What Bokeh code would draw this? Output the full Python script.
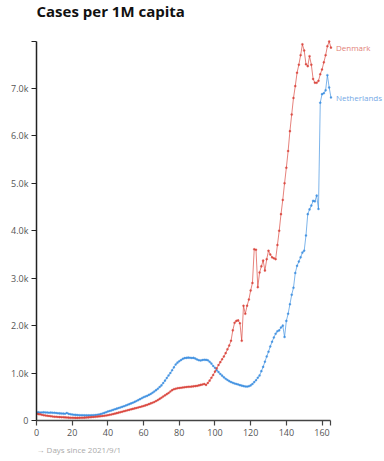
from bokeh.plotting import figure
from bokeh.models import Range1d, FixedTicker, CustomJSTickFormatter, Title
from bokeh.core.properties import value
from bokeh.embed import file_html
from bokeh.resources import INLINE

title_text = "Cases per 1M capita"
x_label = "→ Days since 2021/9/1"

netherlands = [
    170, 172, 168, 170, 172, 170, 168, 165, 167, 165,
    162, 158, 152, 150, 148, 145, 143, 158, 140, 132,
    126, 122, 118, 115, 112, 110, 110, 108, 108, 107,
    108, 110, 112, 115, 120, 126, 135, 148, 160, 175,
    190, 200, 212, 225, 238, 250, 262, 275, 288, 300,
    315, 330, 345, 360, 375, 392, 410, 430, 450, 470,
    490, 505, 520, 540, 560, 585, 610, 640, 670, 705,
    740, 790, 840, 895, 950, 1000, 1060, 1120, 1180, 1220,
    1250, 1275, 1300, 1315, 1320, 1325, 1322, 1318, 1320, 1305,
    1285, 1270, 1265, 1275, 1280, 1278, 1270, 1240, 1200, 1150,
    1110, 1060, 1020, 980, 945, 910, 880, 855, 830, 810,
    795, 780, 770, 760, 745, 735, 725, 718, 715, 722,
    740, 770, 810, 850, 900, 950, 1040, 1130, 1240, 1350,
    1450, 1560, 1660, 1750, 1830, 1880, 1900, 1960, 2000, 1760,
    2100, 2250, 2450, 2650, 2800, 3110, 3260, 3350, 3440, 3540,
    3580, 3900, 4350, 4450, 4530, 4630, 4620, 4740, 4460, 6700,
    6880, 6900, 6960, 7280, 7020, 6810,
]

denmark = [
    140, 135, 130, 120, 112, 105, 100, 95, 90, 85,
    80, 78, 75, 72, 70, 68, 65, 63, 60, 58,
    57, 56, 55, 55, 56, 57, 58, 60, 62, 65,
    68, 72, 75, 78, 82, 86, 90, 95, 100, 105,
    112, 120, 128, 136, 145, 155, 165, 175, 185, 195,
    205, 215, 225, 235, 245, 255, 265, 275, 285, 295,
    305, 318, 330, 345, 360, 375, 390, 410, 430, 455,
    480, 505, 530, 555, 580, 610, 640, 660, 670, 680,
    685, 690, 695, 700, 705, 710, 712, 715, 720, 725,
    730, 740, 750, 760, 770, 750, 790, 840, 900, 960,
    1030, 1100, 1170, 1230, 1290, 1350, 1420, 1500, 1580, 1680,
    1900, 2060, 2100, 2110, 2050, 1680, 2420, 2250, 2420, 2550,
    2740, 2900, 3610, 3600, 2810, 3120, 3250, 3370, 3160, 3400,
    3580, 3500, 3440, 3420, 3400, 3700, 4000, 4350, 4650, 5000,
    5330, 5680, 6100, 6450, 6800, 7050, 7330, 7500, 7700, 7930,
    7800, 7510, 7470, 7680, 7500, 7200, 7120, 7120, 7160, 7300,
    7400, 7550, 7700, 7890, 7990, 7860,
]

days = list(range(len(denmark)))
series_names = ["Denmark", "Netherlands"]
y_ticks = [0, 1000, 2000, 3000, 4000, 5000, 6000, 7000]
x_ticks = [0, 20, 40, 60, 80, 100, 120, 140, 160]

red = "#d9443b"
blue = "#3d8fe0"
red_label = "#e27f78"
blue_label = "#74a9e6"
font = "Open Sans"

ymax = max(max(denmark), max(netherlands))
xmax = days[-1]

# frame spans the full canvas height above the x axis; the axis stops at ymax
frame_h = 461 - 41
top_gap = 41
y_end = ymax * frame_h / (frame_h - top_gap)

p = figure(width=384, height=461, output_backend="svg", toolbar_location=None,
           x_range=Range1d(0, 195), y_range=Range1d(0, y_end),
           min_border_left=36, min_border_right=0, min_border_top=0, min_border_bottom=41)
p.outline_line_color = None
p.xgrid.visible = False
p.ygrid.visible = False

p.add_layout(Title(text=x_label, align="left", text_font=font, text_font_size="8px",
                   text_font_style="normal", text_color="#aaaaaa", standoff=6), "below")

for ax in (p.xaxis[0], p.yaxis[0]):
    ax.major_tick_in = 0
    ax.major_tick_out = 5
    ax.minor_tick_line_color = None
    ax.major_label_text_font = font
    ax.major_label_text_font_size = "9px"
    ax.major_label_text_color = "#555555"
    ax.axis_line_width = 1.5
    ax.major_tick_line_width = 1.2

p.yaxis[0].axis_line_color = "#222222"
p.yaxis[0].major_tick_line_color = "#222222"
p.xaxis[0].axis_line_color = "#444444"
p.xaxis[0].major_tick_line_color = "#444444"
p.yaxis[0].major_label_standoff = 3
p.xaxis[0].major_label_standoff = 3

p.yaxis[0].ticker = FixedTicker(ticks=y_ticks + [ymax])
p.yaxis[0].formatter = CustomJSTickFormatter(
    code="return tick % 1000 === 0 ? (tick === 0 ? '0' : (tick/1000).toFixed(1) + 'k') : '';")
p.xaxis[0].ticker = FixedTicker(ticks=x_ticks + [xmax])
p.xaxis[0].formatter = CustomJSTickFormatter(
    code="return tick % 20 === 0 ? tick.toString() : '';")
p.xaxis[0].bounds = (0, xmax)
p.yaxis[0].bounds = (0, ymax)

for vals, col in ((netherlands, blue), (denmark, red)):
    p.line(days, vals, line_color=col, line_width=0.9, line_alpha=0.75)
    p.scatter(days, vals, size=2.1, fill_color=col, line_color=col,
              line_width=0.3, fill_alpha=0.9, line_alpha=0.9)

p.text(x=[xmax, xmax], y=[denmark[-1], netherlands[-1]], text=series_names,
       x_offset=5, text_baseline="middle", text_align="left",
       text_font=value(font), text_font_size="8px",
       text_color=[red_label, blue_label])

# chart title, placed near the top edge of the canvas
p.text(x=[0], y=[y_end], text=[title_text], x_offset=0, y_offset=0,
       text_baseline="top", text_align="left",
       text_font=value(font), text_font_size="15px", text_font_style="bold",
       text_color="#111111")

open("out.html", "w").write(file_html(p, INLINE))
